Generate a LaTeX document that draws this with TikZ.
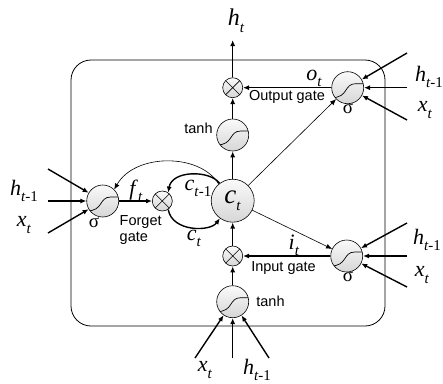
\documentclass[tikz,border=0pt]{standalone}
\usepackage{fontspec}
\setmainfont{Liberation Serif}
\newfontfamily\arialf{Liberation Sans}
\usetikzlibrary{arrows.meta}
\newcommand{\V}[2]{\textit{#1}\raisebox{-0.28em}{\fontsize{15}{15}\selectfont #2}}
\newcommand{\ti}{\textit{t}}
\begin{document}
\begin{tikzpicture}[x=1pt,y=-1pt,
  tip/.style={-{Latex[length=6pt,width=5pt]}},
  thk/.style={line width=1.4pt,tip},
  thn/.style={line width=0.6pt,tip},
  shadeball/.style={circle,draw,line width=0.6pt,inner sep=0pt,top color=gray!4,bottom color=gray!32},
  sig/.style={shadeball,minimum size=32pt,
    path picture={\draw[line width=0.7pt]
      ([shift={(-16pt,-10pt)}]path picture bounding box.center)
      .. controls ([shift={(1pt,-10pt)}]path picture bounding box.center)
      and ([shift={(-4pt,4pt)}]path picture bounding box.center)
      .. ([shift={(8pt,4pt)}]path picture bounding box.center)
      -- ([shift={(17pt,4pt)}]path picture bounding box.center);}},
  mul/.style={shadeball,minimum size=20pt,
    path picture={\draw[line width=0.6pt]
      (path picture bounding box.north west) -- (path picture bounding box.south east)
      (path picture bounding box.north east) -- (path picture bounding box.south west);}},
  var/.style={font=\fontsize{22}{22}\selectfont, inner sep=0pt},
  gl/.style={font=\arialf\fontsize{14.5}{16}\selectfont, inner sep=0pt, align=left},
  sg/.style={font=\fontsize{19}{19}\selectfont, inner sep=0pt}]
\useasboundingbox (0,0) rectangle (443,383);
\draw[line width=0.8pt, rounded corners=20pt] (71,60) rectangle (385,326);

% nodes
\node[shadeball, minimum size=43pt, font=\fontsize{27}{27}\selectfont] (ct) at (232.7,200.7) {\V{c}{\ti}};
\node[sig] (tanhT) at (232.7,135) {};
\node[mul] (mulO) at (232.7,87.7) {};
\node[sig] (sigO) at (347.7,87.7) {};
\node[mul] (mulI) at (232.7,256) {};
\node[sig] (sigI) at (346.7,256) {};
\node[sig] (tanhB) at (232.7,301.7) {};
\node[sig] (sigF) at (102.7,201) {};
\node[mul] (mulF) at (162.3,201) {};

% free ends
\coordinate (htc) at (232.7,40);
\coordinate (f1) at (48,169);
\coordinate (f2) at (48,201);
\coordinate (f3) at (48,233);
\coordinate (o1) at (407,53);
\coordinate (o2) at (407,87.7);
\coordinate (o3) at (407,120);
\coordinate (i1) at (407,223);
\coordinate (i2) at (407,256);
\coordinate (i3) at (407,287);
\coordinate (b1) at (195,358);
\coordinate (b2) at (232.7,358);
\coordinate (b3) at (269,358);

% connectors
\draw[thk] (mulO) -- (htc);
\draw[thk] (tanhT) -- (mulO);
\draw[thk] (ct) -- (tanhT);
\draw[thk] (sigO) -- (mulO);
\draw[thk] (sigI) -- (mulI);
\draw[thk] (tanhB) -- (mulI);
\draw[thk] (mulI) -- (ct);
\draw[thk] (sigF) -- (mulF);
\draw[thn] (ct) -- (sigO);
\draw[thn] (ct) -- (sigI);
\draw[thn] (ct.130) .. controls (200,153) and (135,153) .. (sigF.45);
\draw[thk] (ct.127) .. controls (210,170) and (172,170) .. (mulF.55);
\draw[thk] (mulF.-55) .. controls (172,232) and (210,232) .. (ct.-126);
\foreach \a/\n in {f1/sigF,f2/sigF,f3/sigF,o1/sigO,o2/sigO,o3/sigO,i1/sigI,i2/sigI,i3/sigI,b1/tanhB,b2/tanhB,b3/tanhB}
  \draw[thk] (\a) -- (\n);

% labels
\node[var, font=\fontsize{24}{24}\selectfont] (lht) at (236,21) {\V{h}{\ti}};
\node[var] (lot) at (314,78) {\V{o}{\ti}};
\node[gl] (log) at (287,97) {Output gate};
\node[gl] (ltt) at (198.5,128) {tanh};
\node[sg] (lso) at (348,109) {σ};
\node[var] (lft) at (136,191) {\V{f}{\ti}};
\node[gl, anchor=west] (lfg) at (119.5,230) {Forget\\gate};
\node[sg] (lsf) at (94,223) {σ};
\node[var] (lcp) at (198,188) {\V{c}{\ti-1}};
\node[var] (lcn) at (194,238) {\V{c}{\ti}};
\node[var] (lit) at (294,245) {\V{i}{\ti}};
\node[gl] (lig) at (283.5,268) {Input gate};
\node[sg] (lsi) at (348,277) {σ};
\node[gl] (ltb) at (270.5,301) {tanh};
\node[var] (lh1) at (24,191) {\V{h}{\ti-1}};
\node[var] (lx1) at (24,225) {\V{x}{\ti}};
\node[var] (lh2) at (429,77) {\V{h}{\ti-1}};
\node[var] (lx2) at (425,110) {\V{x}{\ti}};
\node[var] (lh3) at (427,240) {\V{h}{\ti-1}};
\node[var] (lx3) at (422,275) {\V{x}{\ti}};
\node[var] (lx4) at (205,370) {\V{x}{\ti}};
\node[var] (lh4) at (257,370) {\V{h}{\ti-1}};
\end{tikzpicture}
\end{document}
